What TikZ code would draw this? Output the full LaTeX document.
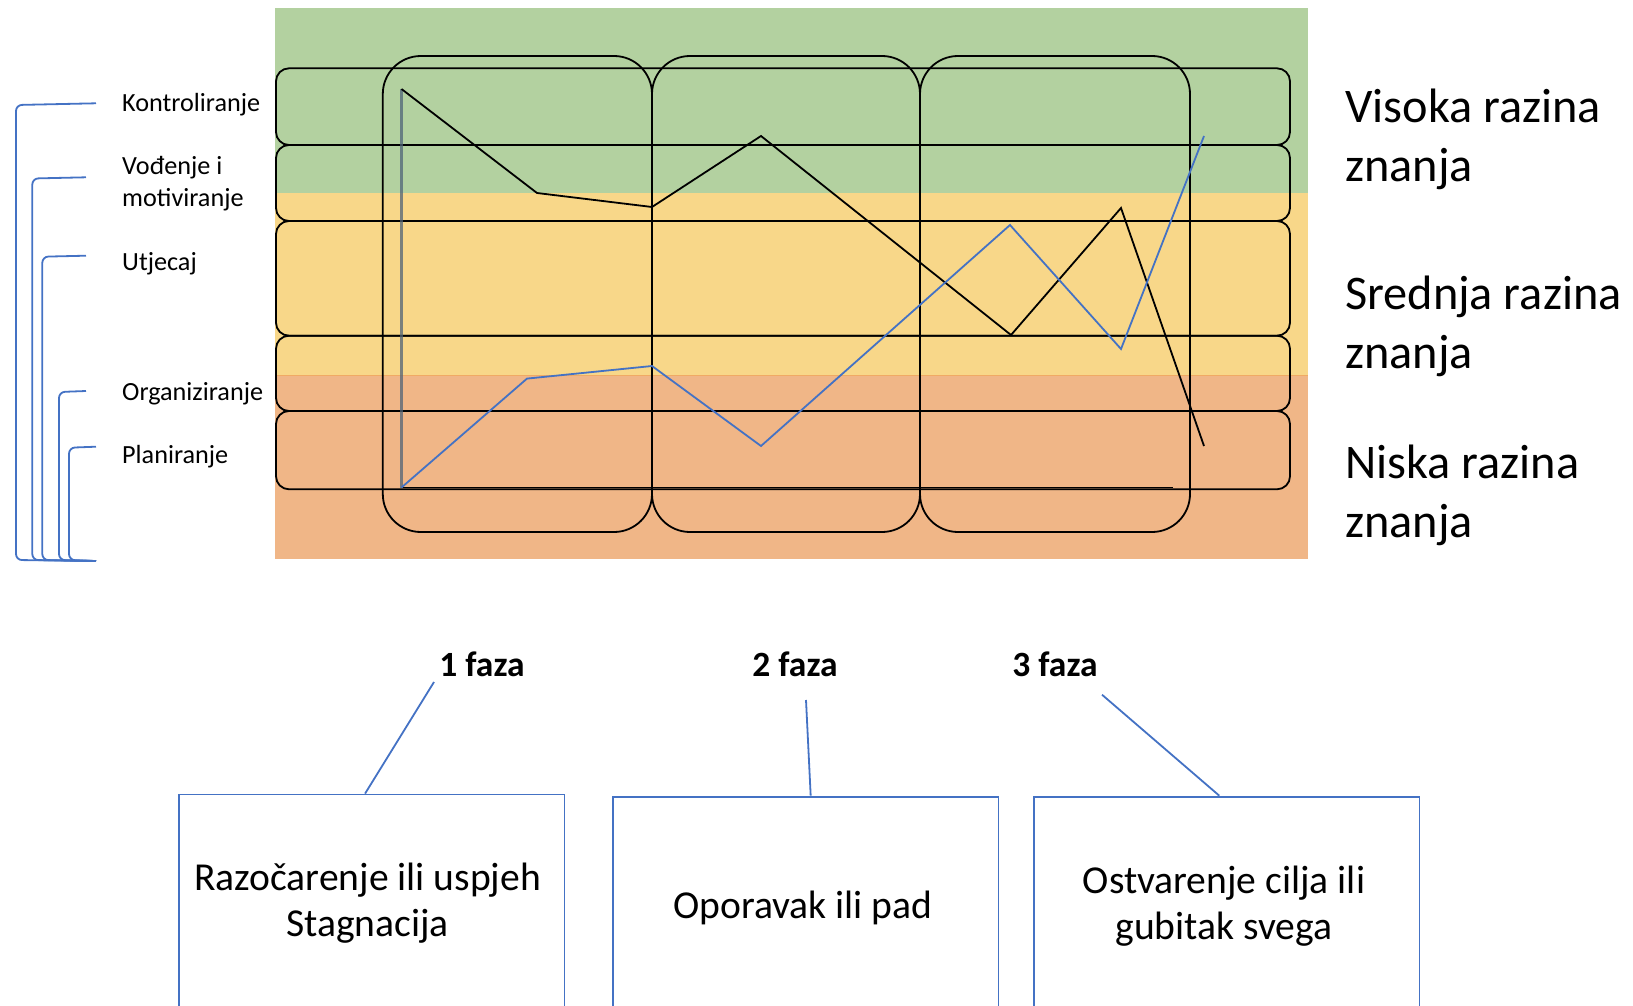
\documentclass[tikz,border=0pt]{standalone}
\usepackage{fontspec}
\setmainfont{Carlito}
\usetikzlibrary{calc}
\definecolor{bggreen}{RGB}{179,209,160}
\definecolor{bgyellow}{RGB}{248,215,137}
\definecolor{bgorange}{RGB}{240,182,135}
\definecolor{edgeorange}{RGB}{240,170,100}
\definecolor{offblue}{RGB}{68,114,196}
\definecolor{axisgray}{RGB}{80,100,120}
\begin{document}
\begin{tikzpicture}[x=1pt,y=-1pt,
  rowbox/.style={draw=black,line width=1.8pt,rounded corners=13pt},
  colbox/.style={draw=black,line width=1.8pt,rounded corners=38pt},
  blackline/.style={draw=black,line width=1.8pt,line join=miter},
  blueline/.style={draw=offblue,line width=1.8pt},
  bracket/.style={draw=offblue,line width=1.8pt,rounded corners=6pt},
  rowlabel/.style={anchor=base west,inner sep=0pt,font=\fontsize{26.2}{31}\selectfont},
  levellabel/.style={anchor=base west,inner sep=0pt,font=\fontsize{48.3}{58}\selectfont},
  phaselabel/.style={anchor=base,inner sep=0pt,font=\fontsize{35.5}{42}\selectfont\bfseries},
  phasebox/.style={draw=offblue,line width=1.8pt,rectangle,minimum width=385.5pt,minimum height=260pt,anchor=north west,inner sep=0pt},
  boxtext/.style={anchor=base,inner sep=0pt,font=\fontsize{39.6}{47}\selectfont},
  connector/.style={draw=offblue,line width=1.8pt}
]
\useasboundingbox (0,0) rectangle (1633,1006);
\clip (0,0) rectangle (1633,1006);

% background bands
\fill[bggreen] (275,8) rectangle (1308,193);
\fill[bgyellow] (275,193) rectangle (1308,375.7);
\fill[bgorange] (275,375.7) rectangle (1308,559);
\draw[edgeorange,line width=1pt] (275,375.7) -- (1308,375.7);

% row boxes
\foreach \ya/\yb in {68.3/145, 145/221, 221/335.7, 335.7/411, 411/489.3}
  \draw[rowbox] (276,\ya) rectangle (1290,\yb);

% column boxes
\draw[colbox] (382.8,56) rectangle (652,532);
\draw[colbox] (652,56) rectangle (920,532);
\draw[colbox] (920,56) rectangle (1190,532);

% axes
\coordinate (origin) at (401.5,487.5);
\coordinate (ytop) at (401.5,89);
\coordinate (xend) at (1173,487.5);
\draw[black,line width=1.2pt] (origin) -- (xend);
\draw[axisgray,opacity=0.75,line width=3pt] (origin) -- (ytop);

% black curve
\draw[blackline] (ytop) -- (537,193) -- (652,207) -- (761,136) -- (1011,335) -- (1121,208) -- (1204,446);
% blue curve
\draw[blueline] (origin) -- (527,378.6) -- (652,366) -- (761,446) -- (1010,225) -- (1121,349) -- (1204,136);

% left brackets
\draw[bracket] (96,103.3) -- (16,105) -- (16,560) -- (96,561);
\draw[bracket] (86,177.3) -- (32.3,178.5) -- (32.3,560) -- (96,561);
\draw[bracket] (86,255.7) -- (42.3,256.7) -- (42.3,560) -- (96,561);
\draw[bracket] (86,391) -- (59,392) -- (59,560) -- (96,561);
\draw[bracket] (96,446.7) -- (69,447.7) -- (69,560) -- (96,561);

% row labels
\node[rowlabel] (lk) at (122,111.7) {Kontroliranje};
\node[rowlabel] (lv1) at (122,175) {Vođenje i};
\node[rowlabel] (lv2) at (122,206.7) {motiviranje};
\node[rowlabel] (lu) at (122,270.7) {Utjecaj};
\node[rowlabel] (lo) at (122,400) {Organiziranje};
\node[rowlabel] (lp) at (122,463.3) {Planiranje};

% level labels
\node[levellabel] (hv1) at (1345,122.5) {Visoka razina};
\node[levellabel] (hv2) at (1345,182) {znanja};
\node[levellabel] (hs1) at (1345,309) {Srednja razina};
\node[levellabel] (hs2) at (1345,368) {znanja};
\node[levellabel] (hn1) at (1345,478.6) {Niska razina};
\node[levellabel] (hn2) at (1345,537.5) {znanja};

% phase labels
\node[phaselabel] (f1) at (482,676) {1 faza};
\node[phaselabel] (f2) at (795,676) {2 faza};
\node[phaselabel] (f3) at (1055,676) {3 faza};

% phase boxes
\node[phasebox] (box1) at (178,793.6) {};
\node[phasebox] (box2) at (612,795.7) {};
\node[phasebox] (box3) at (1033,795.7) {};

\node[boxtext] (t1a) at (367.6,890.5) {Razočarenje ili uspjeh};
\node[boxtext] (t1b) at (367.6,936) {Stagnacija};
\node[boxtext] (t2) at (803,918.6) {Oporavak ili pad};
\node[boxtext] (t3a) at (1224,893.6) {Ostvarenje cilja ili};
\node[boxtext] (t3b) at (1224,939.5) {gubitak svega};

% connectors
\coordinate (c1) at (434,682);
\coordinate (c2) at (806,700);
\coordinate (c3) at (1102,694.7);
\draw[connector] (c1) -- ($(box1.north west)!0.483!(box1.north east)$);
\draw[connector] (c2) -- ($(box2.north west)!0.513!(box2.north east)$);
\draw[connector] (c3) -- ($(box3.north west)!0.481!(box3.north east)$);
\end{tikzpicture}
\end{document}
